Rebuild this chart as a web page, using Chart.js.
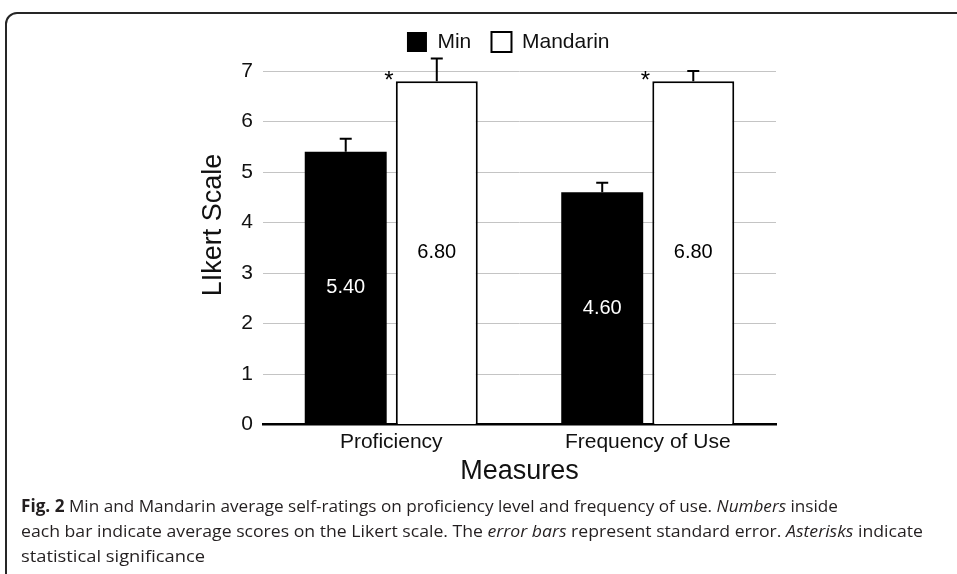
<!DOCTYPE html>
<html>
<head>
<meta charset="utf-8">
<script src="https://cdn.jsdelivr.net/npm/chart.js@4/dist/chart.umd.min.js"></script>
<style>
  html, body { margin: 0; padding: 0; background: #fff; }
  body { width: 957px; height: 574px; overflow: hidden; position: relative; }
  #frame {
    position: absolute; left: 5px; top: 12px; width: 1000px; height: 640px;
    border: 2.4px solid #262626; border-top-left-radius: 12px; box-sizing: border-box;
  }
  #plot { position: absolute; left: 0; top: 0; width: 957px; height: 574px; }
  #caption {
    position: absolute; left: 21px; top: 493px;
    font-family: "Open Sans", "Noto Sans", sans-serif; font-size: 17px; line-height: 25px;
    color: #231f20; white-space: nowrap;
  }
  #caption span { display: inline-block; transform-origin: 0 50%; }
  #caption b { font-weight: 700; }
</style>
</head>
<body>
<div id="frame"></div>
<div id="plot"><canvas id="chart" width="957" height="574"></canvas></div>
<div id="caption">
  <div><span data-w="817"><b>Fig. 2</b> Min and Mandarin average self-ratings on proficiency level and frequency of use. <i>Numbers</i> inside</span></div>
  <div><span data-w="902">each bar indicate average scores on the Likert scale. The <i>error bars</i> represent standard error. <i>Asterisks</i> indicate</span></div>
  <div><span data-w="184">statistical significance</span></div>
</div>
<script>
// Measures on the x axis
const categories = ['Proficiency', 'Frequency of Use'];
// Mean Likert ratings per language
const minMeans = [5.40, 4.60];
const mandarinMeans = [6.80, 6.80];
// Standard errors (drawn upward from each bar)
const minErrors = [0.26, 0.19];
const mandarinErrors = [0.45, 0.20];
// Significance markers on the Mandarin bars
const mandarinSignificant = [true, true];
// Y axis tick values
const yTicks = [0, 1, 2, 3, 4, 5, 6, 7];

const FAMILY = '"Liberation Sans", Arial, Helvetica, sans-serif';
Chart.defaults.color = '#111';
Chart.defaults.font.family = FAMILY;

// Error bars, in-bar value labels and significance asterisks
const barExtras = {
  id: 'barExtras',
  afterDatasetsDraw(chart) {
    const ctx = chart.ctx;
    const yScale = chart.scales.y;
    chart.data.datasets.forEach((ds, i) => {
      const meta = chart.getDatasetMeta(i);
      meta.data.forEach((bar, j) => {
        const v = ds.data[j];
        const errTop = yScale.getPixelForValue(v + ds.errors[j]);
        ctx.save();
        ctx.strokeStyle = '#000';
        ctx.lineWidth = 2;
        ctx.beginPath();
        ctx.moveTo(bar.x, bar.y);
        ctx.lineTo(bar.x, errTop);
        ctx.moveTo(bar.x - 6, errTop);
        ctx.lineTo(bar.x + 6, errTop);
        ctx.stroke();

        ctx.font = '20px ' + FAMILY;
        ctx.fillStyle = ds.valueColor;
        ctx.textAlign = 'center';
        ctx.textBaseline = 'middle';
        ctx.fillText(v.toFixed(2), bar.x, (bar.y + bar.base) / 2);

        if (ds.significant && ds.significant[j]) {
          ctx.font = '24px ' + FAMILY;
          ctx.fillStyle = '#000';
          ctx.textBaseline = 'alphabetic';
          ctx.fillText('*', bar.x - bar.width / 2 - 7, bar.y + 7);
        }
        ctx.restore();
      });
    });
  }
};

// Rotated y axis title
const yTitle = {
  id: 'yTitle',
  afterDraw(chart) {
    const ctx = chart.ctx;
    const yScale = chart.scales.y;
    ctx.save();
    ctx.translate(chart.chartArea.left - 49.5, yScale.getPixelForValue(3.95));
    ctx.rotate(-Math.PI / 2);
    ctx.font = '27px ' + FAMILY;
    ctx.fillStyle = '#111';
    ctx.textAlign = 'center';
    ctx.textBaseline = 'middle';
    ctx.fillText('LIkert Scale', 0, 0);
    ctx.restore();
  }
};

new Chart(document.getElementById('chart'), {
  type: 'bar',
  data: {
    labels: categories,
    datasets: [
      {
        label: 'Min',
        data: minMeans,
        errors: minErrors,
        valueColor: '#fff',
        backgroundColor: '#000',
        borderColor: '#000',
        borderWidth: 0,
        categoryPercentage: 0.71,
        barPercentage: 0.9
      },
      {
        label: 'Mandarin',
        data: mandarinMeans,
        errors: mandarinErrors,
        significant: mandarinSignificant,
        valueColor: '#000',
        backgroundColor: '#fff',
        borderColor: '#000',
        borderWidth: 2,
        categoryPercentage: 0.71,
        barPercentage: 0.9
      }
    ]
  },
  options: {
    responsive: false,
    animation: false,
    devicePixelRatio: 1,
    layout: { padding: { left: 240.5, right: 181, top: 11.3, bottom: 84.5 } },
    plugins: {
      legend: {
        position: 'top',
        align: 'center',
        labels: {
          boxWidth: 20,
          boxHeight: 20,
          padding: 20.2,
          color: '#111',
          font: { size: 21 }
        }
      },
      tooltip: { enabled: false }
    },
    scales: {
      x: {
        grid: { display: false, drawTicks: false },
        border: { display: true, color: '#000', width: 2.5 },
        ticks: { padding: 5, color: '#111', font: { size: 21 } },
        title: {
          display: true,
          text: 'Measures',
          color: '#111',
          font: { size: 27 },
          padding: { top: 0, bottom: 1.5 }
        },
        afterFit(scale) { scale.height = 65; }
      },
      y: {
        min: 0,
        max: 7.17,
        afterBuildTicks(scale) { scale.ticks = yTicks.map(v => ({ value: v })); },
        ticks: { padding: 10, color: '#111', font: { size: 21 } },
        grid: {
          drawTicks: false,
          lineWidth: 1,
          color: c => (c.tick && c.tick.value === 0) ? 'rgba(0,0,0,0)' : '#c4c4c4'
        },
        border: { display: false },
        afterFit(scale) { scale.width = 22.5; }
      }
    }
  },
  plugins: [barExtras, yTitle]
});

// Condense each caption line to its set width
document.querySelectorAll('#caption span[data-w]').forEach(span => {
  const natural = span.getBoundingClientRect().width;
  span.style.transform = 'scaleX(' + (Number(span.dataset.w) / natural) + ')';
});
</script>
</body>
</html>
